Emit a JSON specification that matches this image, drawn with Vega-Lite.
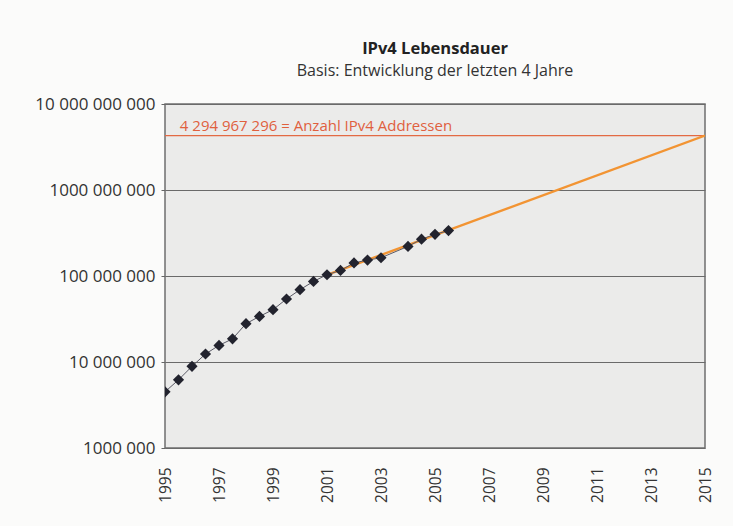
{
  "$schema": "https://vega.github.io/schema/vega-lite/v6.json",
  "width": 540,
  "height": 344,
  "autosize": {"type": "none"},
  "padding": {"left": 165, "top": 104, "right": 28, "bottom": 78},
  "background": "#fbfbfa",
  "title": {
    "text": "IPv4 Lebensdauer",
    "subtitle": "Basis: Entwicklung der letzten 4 Jahre",
    "anchor": "middle",
    "font": "Open Sans",
    "fontSize": 16.5,
    "fontWeight": "bold",
    "color": "#222222",
    "subtitleFont": "Open Sans",
    "subtitleFontSize": 16,
    "subtitleColor": "#333333",
    "subtitlePadding": 6,
    "offset": 16
  },
  "datasets": {
    "messung": [
      {"jahr": 1995.0, "adressen": 4500000},
      {"jahr": 1995.5, "adressen": 6200000},
      {"jahr": 1996.0, "adressen": 8900000},
      {"jahr": 1996.5, "adressen": 12400000},
      {"jahr": 1997.0, "adressen": 15600000},
      {"jahr": 1997.5, "adressen": 18600000},
      {"jahr": 1998.0, "adressen": 27900000},
      {"jahr": 1998.5, "adressen": 33900000},
      {"jahr": 1999.0, "adressen": 40600000},
      {"jahr": 1999.5, "adressen": 54000000},
      {"jahr": 2000.0, "adressen": 69300000},
      {"jahr": 2000.5, "adressen": 86500000},
      {"jahr": 2001.0, "adressen": 103500000},
      {"jahr": 2001.5, "adressen": 116000000},
      {"jahr": 2002.0, "adressen": 142000000},
      {"jahr": 2002.5, "adressen": 153000000},
      {"jahr": 2003.0, "adressen": 163000000},
      {"jahr": 2004.0, "adressen": 221000000},
      {"jahr": 2004.5, "adressen": 268000000},
      {"jahr": 2005.0, "adressen": 305000000},
      {"jahr": 2005.5, "adressen": 337000000}
    ],
    "trend": [
      {"jahr": 2001.0, "adressen": 103000000},
      {"jahr": 2015.0, "adressen": 4294967296}
    ],
    "grenze": [
      {"jahr": 1995.55, "adressen": 4294967296, "text": "4 294 967 296 = Anzahl IPv4 Addressen"}
    ]
  },
  "encoding": {
    "x": {
      "field": "jahr",
      "type": "quantitative",
      "scale": {"domain": [1995, 2015], "nice": false, "zero": false},
      "axis": {
        "title": null,
        "values": [1995, 1997, 1999, 2001, 2003, 2005, 2007, 2009, 2011, 2013, 2015],
        "format": "d",
        "labelAngle": -90,
        "labelAlign": "right",
        "labelBaseline": "middle",
        "labelPadding": 19,
        "labelFont": "Open Sans",
        "labelFontSize": 15.5,
        "labelColor": "#333333",
        "ticks": false,
        "domain": false,
        "grid": false
      }
    },
    "y": {
      "field": "adressen",
      "type": "quantitative",
      "scale": {"type": "log", "domain": [1000000, 10000000000], "nice": false},
      "axis": {
        "title": null,
        "values": [1000000, 10000000, 100000000, 1000000000, 10000000000],
        "labelExpr": "datum.value >= 9e9 ? '10 000 000 000' : datum.value >= 9e8 ? '1000 000 000' : datum.value >= 9e7 ? '100 000 000' : datum.value >= 9e6 ? '10 000 000' : '1000 000'",
        "labelFont": "Open Sans",
        "labelFontSize": 17,
        "labelColor": "#333333",
        "labelPadding": 6,
        "tickSize": 4,
        "tickColor": "#666666",
        "domain": false,
        "grid": true,
        "gridColor": "#6a6a6a",
        "gridWidth": 1
      }
    }
  },
  "layer": [
    {
      "data": {"name": "grenze"},
      "mark": {"type": "rule", "color": "#e36a44", "strokeWidth": 1.2},
      "encoding": {"x": null}
    },
    {
      "data": {"name": "grenze"},
      "mark": {"type": "text", "align": "left", "baseline": "bottom", "dy": -2, "font": "Open Sans", "fontSize": 15, "color": "#e0603e"},
      "encoding": {"text": {"field": "text"}}
    },
    {
      "data": {"name": "trend"},
      "mark": {"type": "line", "color": "#f29433", "strokeWidth": 2.4, "clip": true}
    },
    {
      "data": {"name": "messung"},
      "mark": {"type": "line", "color": "#5a5a66", "strokeWidth": 1, "clip": true}
    },
    {
      "data": {"name": "messung"},
      "mark": {"type": "point", "shape": "diamond", "filled": true, "size": 125, "color": "#22232e", "opacity": 1, "clip": true}
    }
  ],
  "config": {
    "view": {"fill": "#ebebea", "stroke": "#6f6f6f", "strokeWidth": 1.5}
  }
}
